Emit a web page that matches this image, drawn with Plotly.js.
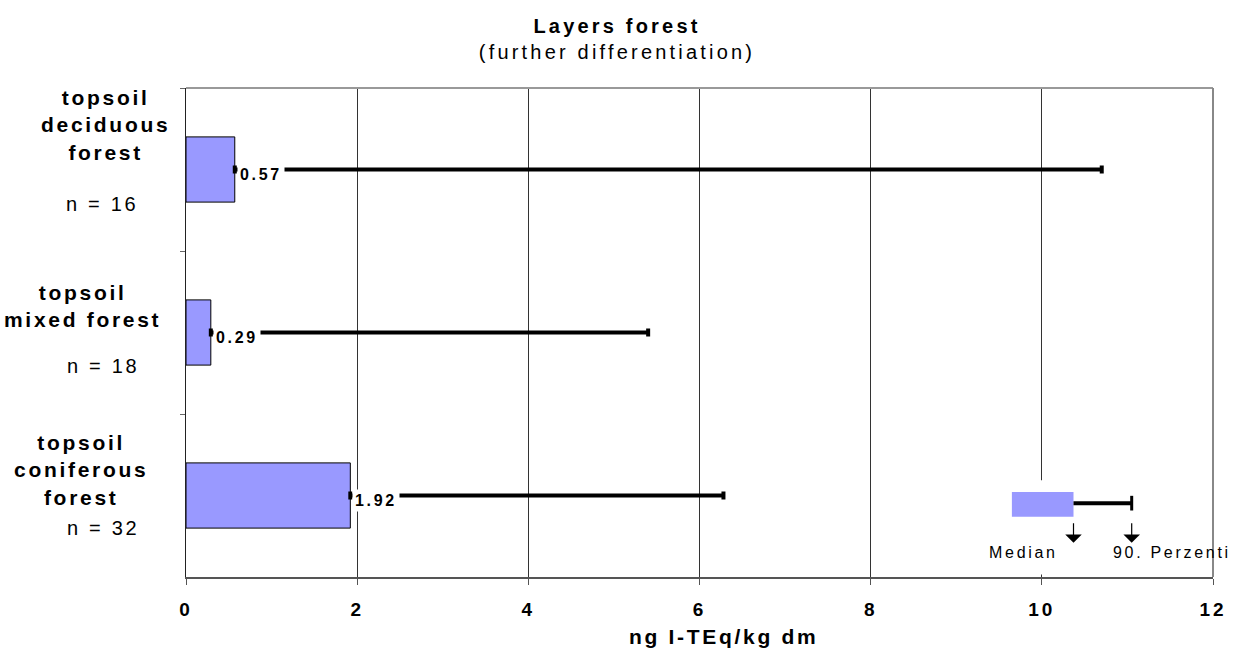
<!DOCTYPE html>
<html><head><meta charset="utf-8">
<script src="https://cdn.plot.ly/plotly-3.0.1.min.js"></script>
<style>
html,body{margin:0;padding:0;background:#fff}
#chart{width:1234px;height:650px}
.gtitle{letter-spacing:3.2px}
.xtick text{letter-spacing:3px}
.annotation-text{letter-spacing:2.7px}
</style></head><body><div id="chart"></div>
<script>
// ---- data ----
const categories = ['topsoil deciduous forest', 'topsoil mixed forest', 'topsoil coniferous forest'];
const labelLines = ['topsoil<br>deciduous<br>forest', 'topsoil<br>mixed forest', 'topsoil<br>coniferous<br>forest'];
const sampleSizes = [16, 18, 32];
const medians = [0.57, 0.29, 1.92];
const percentile90 = [10.7, 5.4, 6.28];
const xTicks = [0, 2, 4, 6, 8, 10, 12];
const keyLabels = ['Median', '90. Perzenti'];

// ---- styling / layout helpers ----
const FONT = 'Liberation Sans, Arial, sans-serif';
const BAR = '#9999FF';
const labelShift = [{x: -81, y: 45}, {x: -104, y: 27}, {x: -105, y: 26}];
const nShift = [{x: -84, y: -34}, {x: -83, y: -33}, {x: -83, y: -32}];

const trace = {
  type: 'bar', orientation: 'h',
  x: medians, y: categories,
  width: 0.4,
  marker: {color: BAR, line: {color: '#000', width: 1}},
  error_x: {
    type: 'data', symmetric: false,
    array: percentile90.map((p, i) => p - medians[i]),
    arrayminus: medians.map(() => 0),
    color: '#000', thickness: 4, width: 4, visible: true
  },
  hoverinfo: 'none', showlegend: false
};

const annotations = [];
categories.forEach((c, i) => {
  annotations.push({
    xref: 'paper', x: 0, yref: 'y', y: c, xanchor: 'center', yanchor: 'middle',
    xshift: labelShift[i].x, yshift: labelShift[i].y, showarrow: false, align: 'center',
    text: '<b>' + labelLines[i] + '</b>', font: {family: FONT, size: 21, color: '#000'}
  });
  annotations.push({
    xref: 'paper', x: 0, yref: 'y', y: c, xanchor: 'center', yanchor: 'middle',
    xshift: nShift[i].x, yshift: nShift[i].y, showarrow: false,
    text: 'n = ' + sampleSizes[i], font: {family: FONT, size: 20, color: '#000'}
  });
  annotations.push({
    xref: 'x', x: medians[i], yref: 'y', y: c, xanchor: 'left', yanchor: 'middle',
    xshift: 2, yshift: -5, showarrow: false, bgcolor: '#fff', borderpad: 2,
    text: '<b>' + medians[i].toFixed(2) + '</b>', font: {family: FONT, size: 16, color: '#000'}
  });
});
// x axis title
annotations.push({
  xref: 'paper', x: 0.5, yref: 'paper', y: -0.121, xanchor: 'center', yanchor: 'middle',
  xshift: 24, showarrow: false, text: '<b>ng I-TEq/kg dm</b>',
  font: {family: FONT, size: 21, color: '#000'}
});
// key (explanation inset)
const keyY = {barTop: 0.174, barBot: 0.123, line: 0.151, capTop: 0.166, capBot: 0.136, arrowHead: 0.07, text: 0.051};
const keyX = {bar0: 9.65, bar1: 10.37, end: 11.05, text0: 9.79, text1: 11.52};
[keyX.bar1, keyX.end].forEach(x => annotations.push({
  xref: 'x', x: x, yref: 'paper', y: keyY.arrowHead, ax: 0, ay: -21, text: '',
  showarrow: true, arrowhead: 1, arrowsize: 2.3, arrowwidth: 1.2, arrowcolor: '#000'
}));
[keyX.text0, keyX.text1].forEach((x, i) => annotations.push({
  xref: 'x', x: x, yref: 'paper', y: keyY.text, xanchor: 'center', yanchor: 'middle',
  showarrow: false, text: keyLabels[i], font: {family: FONT, size: 16, color: '#000'}
}));

const shapes = [
  // white backing behind the key (hides grid line)
  {type: 'rect', xref: 'x', x0: 9.3, x1: 11.9, yref: 'paper', y0: 0.005, y1: 0.198,
   fillcolor: '#fff', line: {width: 0}, layer: 'above'},
  {type: 'rect', xref: 'x', x0: keyX.bar0, x1: keyX.bar1, yref: 'paper', y0: keyY.barBot, y1: keyY.barTop,
   fillcolor: BAR, line: {width: 0}, layer: 'above'},
  {type: 'line', xref: 'x', x0: keyX.bar1, x1: keyX.end, yref: 'paper', y0: keyY.line, y1: keyY.line,
   line: {color: '#000', width: 4}, layer: 'above'},
  {type: 'line', xref: 'x', x0: keyX.end, x1: keyX.end, yref: 'paper', y0: keyY.capBot, y1: keyY.capTop,
   line: {color: '#000', width: 3}, layer: 'above'},
  // top and right frame
  {type: 'line', xref: 'paper', x0: 0, x1: 1, yref: 'paper', y0: 1, y1: 1,
   line: {color: '#999', width: 2}, layer: 'above'},
  {type: 'line', xref: 'paper', x0: 1, x1: 1, yref: 'paper', y0: 0, y1: 1,
   line: {color: '#888', width: 2}, layer: 'above'}
];

const layout = {
  width: 1234, height: 650,
  margin: {l: 186, r: 21, t: 88, b: 73},
  paper_bgcolor: '#fff', plot_bgcolor: '#fff',
  font: {family: FONT, color: '#000'},
  title: {
    text: '<b>Layers forest</b><br>(further differentiation)',
    font: {family: FONT, size: 20, color: '#000'},
    x: 0.5, xref: 'container', xanchor: 'center',
    y: 1 - 33 / 650, yref: 'container', yanchor: 'top'
  },
  xaxis: {
    range: [0, 12], tickmode: 'array', tickvals: xTicks, ticktext: xTicks.map(String),
    showgrid: true, gridcolor: '#333', gridwidth: 1, zeroline: false,
    showline: true, linecolor: '#555', linewidth: 2,
    ticks: 'outside', ticklen: 6, tickcolor: '#555', tickwidth: 1,
    tickfont: {family: FONT, size: 19, color: '#000', weight: 'bold'},
    ticklabelstandoff: 8, fixedrange: true
  },
  yaxis: {
    type: 'category', categoryorder: 'array', categoryarray: categories,
    range: [2.5, -0.5], showgrid: false, zeroline: false,
    showline: true, linecolor: '#222', linewidth: 1,
    ticks: 'outside', tickson: 'boundaries', ticklen: 5, tickcolor: '#666',
    showticklabels: false, fixedrange: true
  },
  annotations: annotations,
  shapes: shapes,
  showlegend: false
};

Plotly.newPlot('chart', [trace], layout, {displayModeBar: false, staticPlot: true});
</script></body></html>
